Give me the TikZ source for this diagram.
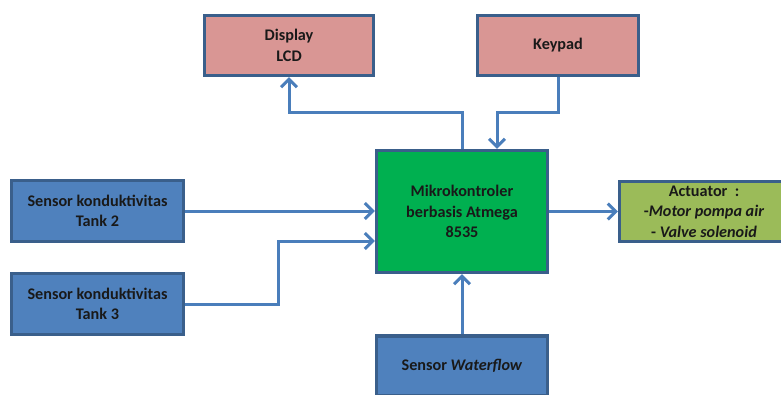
\documentclass[tikz,border=0pt]{standalone}
\usepackage{fontspec}
\setmainfont{Carlito}
\usetikzlibrary{arrows.meta}
\definecolor{bordc}{HTML}{3A5F8B}
\definecolor{arrc}{HTML}{4A7EBB}
\definecolor{bluef}{HTML}{4F81BD}
\definecolor{pinkf}{HTML}{D99694}
\definecolor{greenf}{HTML}{00B050}
\definecolor{olivef}{HTML}{9BBB59}
\tikzset{
  box/.style={draw=bordc, line width=3.2pt, rectangle, align=center, inner sep=0pt,
    font=\fontsize{16.2}{20.5}\selectfont\bfseries, text=black!90},
  arr/.style={draw=arrc, line width=3pt, -{Straight Barb[length=8pt,width=16pt,line width=3pt]}}
}
\begin{document}
\begin{tikzpicture}[x=1pt,y=-1pt]
\useasboundingbox (0,0) rectangle (781,394);
\clip (0,0) rectangle (781,394);
\node[box, fill=pinkf, minimum width=169pt, minimum height=60pt] (disp) at (289,45.5) {Display\\LCD};
\node[box, fill=pinkf, minimum width=161pt, minimum height=60pt] (kp) at (558,45.5) {Keypad};
\node[box, fill=greenf, minimum width=171pt, minimum height=122pt] (mc) at (462,211.5) {Mikrokontroler\\berbasis Atmega\\8535};
\node[box, fill=olivef, minimum width=169pt, minimum height=60pt] (act) at (704,211.5) {Actuator\ \ :\\-\textit{Motor pompa air}\\- \textit{Valve solenoid}};
\node[box, fill=bluef, minimum width=172pt, minimum height=61pt] (t2) at (97.5,211) {Sensor konduktivitas\\Tank 2};
\node[box, fill=bluef, minimum width=172pt, minimum height=61pt] (t3) at (97.5,304) {Sensor konduktivitas\\Tank 3};
\node[box, fill=bluef, minimum width=171pt, minimum height=60pt] (wf) at (462,366) {Sensor \textit{Waterflow}};
\coordinate (c3) at (278,241);
\coordinate (d1) at (289,112);
\coordinate (k1) at (497,112);
\draw[arr] (t2.east) -- (mc.west |- t2.east);
\draw[arr] (t3.east) -| (c3) -- (mc.west |- c3);
\draw[arr] (mc.east) -- (act.west);
\draw[arr] (wf.north) -- (mc.south);
\draw[arr] (mc.north) |- (d1) -- (disp.south);
\draw[arr] (kp.south) |- (k1) -- (k1 |- mc.north);
\end{tikzpicture}
\end{document}
